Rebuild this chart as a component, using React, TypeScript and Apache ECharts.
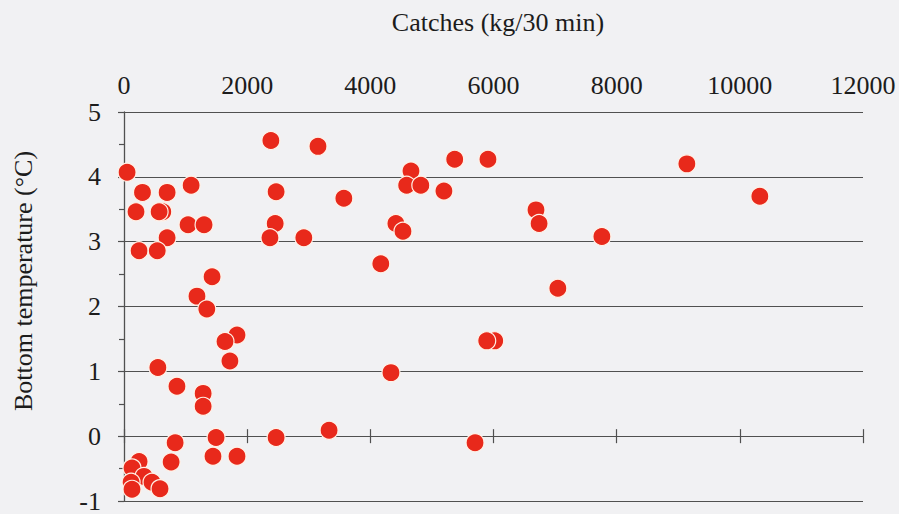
import React, { useEffect, useRef } from "react";
import * as echarts from "echarts";

// Catch per 30-minute tow (kg) and the bottom temperature at that station (°C)
const catches = [
  6020, 50, 300, 700, 195, 630, 570, 1090, 1040, 1300, 700, 245, 540,
  2385, 2470, 2455, 2370, 2920, 3150, 3570, 4170, 5370, 5910, 4660,
  4590, 4820, 5195, 4415, 4530, 6690, 6740, 7760, 7045, 9140, 10325,
  5890, 4335, 3330, 5700, 1430, 1185, 1345, 1835, 1640, 1720, 550, 860,
  1285, 1285, 1495, 2470, 830, 765, 1445, 1835, 245, 130, 325, 455, 585,
  115, 130,
];
const temps = [
  1.47, 4.07, 3.76, 3.76, 3.46, 3.46, 3.46, 3.87, 3.26, 3.26, 3.06, 2.86, 2.86,
  4.56, 3.77, 3.28, 3.06, 3.06, 4.47, 3.67, 2.66, 4.27, 4.27, 4.09,
  3.87, 3.87, 3.78, 3.28, 3.16, 3.49, 3.28, 3.08, 2.28, 4.2, 3.7,
  1.47, 0.98, 0.09, -0.1, 2.46, 2.16, 1.96, 1.56, 1.46, 1.16, 1.06, 0.77,
  0.66, 0.46, -0.02, -0.02, -0.1, -0.4, -0.31, -0.31, -0.39, -0.49, -0.62, -0.71, -0.81,
  -0.71, -0.82,
];

const xTicks = { min: 0, max: 12000, step: 2000 };
const yTicks = { min: -1, max: 5, step: 1 };

const xTitle = "Catches (kg/30 min)";
const yTitle = "Bottom temperature (°C)";

const FONT = '"Liberation Serif", "Times New Roman", serif';
const INK = "#1c1c1c";
const RULE = "#505050";

export default function App() {
  const ref = useRef<HTMLDivElement>(null);

  useEffect(() => {
    if (!ref.current) return;
    const chart = echarts.init(ref.current, undefined, { renderer: "svg" });
    const points = catches.map((c, i) => [c, temps[i]]);

    const zeroTickAxis = (position: "top" | "bottom") => ({
      type: "value",
      position,
      min: xTicks.min,
      max: xTicks.max,
      interval: xTicks.step,
      axisLine: { show: true, onZero: true, onZeroAxisIndex: 0, lineStyle: { color: RULE, width: 1.2 } },
      axisTick: { show: true, length: 7, lineStyle: { color: RULE, width: 1.2 } },
      axisLabel: { show: false },
      splitLine: { show: false },
    });

    chart.setOption({
      animation: false,
      backgroundColor: "#f1f1f3",
      grid: { left: 124, right: 36, top: 112, bottom: 11 },
      xAxis: [
        {
          type: "value",
          position: "top",
          min: xTicks.min,
          max: xTicks.max,
          interval: xTicks.step,
          axisLine: { show: false, onZero: false },
          axisTick: { show: false },
          splitLine: { show: false },
          axisLabel: {
            fontFamily: FONT,
            fontSize: 26,
            color: INK,
            margin: 14,
            formatter: (v: number) => String(v),
          },
        },
        // tick marks crossing the zero line: lower half, then upper half
        zeroTickAxis("bottom"),
        zeroTickAxis("top"),
      ],
      yAxis: {
        type: "value",
        min: yTicks.min,
        max: yTicks.max,
        interval: yTicks.step,
        axisLine: { show: true, onZero: false, lineStyle: { color: RULE, width: 1.3 } },
        axisTick: { show: true, length: 6, lineStyle: { color: RULE, width: 1.2 } },
        minorTick: { show: true, splitNumber: 2, length: 5, lineStyle: { color: RULE, width: 1.2 } },
        splitLine: { show: true, lineStyle: { color: RULE, width: 1.2 } },
        axisLabel: { fontFamily: FONT, fontSize: 26, color: INK, margin: 23 },
      },
      graphic: [
        {
          type: "text",
          x: 498,
          y: 22,
          style: {
            text: xTitle,
            font: `26px ${FONT}`,
            fill: INK,
            align: "center",
            verticalAlign: "middle",
          },
        },
        {
          type: "text",
          x: 23,
          y: 281,
          rotation: Math.PI / 2,
          style: {
            text: yTitle,
            font: `26px ${FONT}`,
            fill: INK,
            align: "center",
            verticalAlign: "middle",
          },
        },
      ],
      series: [
        {
          type: "scatter",
          xAxisIndex: 0,
          data: points,
          symbol: "circle",
          symbolSize: 18,
          itemStyle: { color: "#e8291b", borderColor: "#fff1e6", borderWidth: 1.2, opacity: 1 },
          z: 5,
        },
      ],
    });

    return () => chart.dispose();
  }, []);

  return (
    <div
      ref={ref}
      style={{ position: "fixed", left: 0, top: 0, width: 899, height: 514 }}
    />
  );
}
